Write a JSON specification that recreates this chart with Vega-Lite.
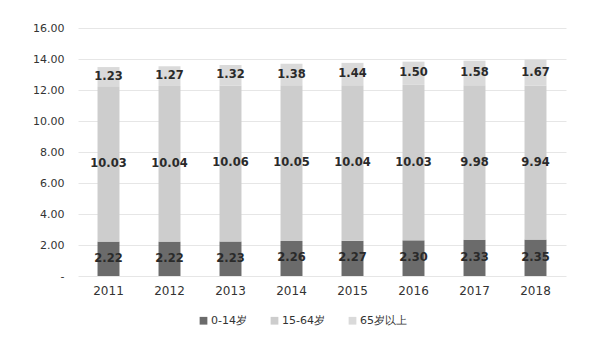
{
  "$schema": "https://vega.github.io/schema/vega-lite/v6.json",
  "width": 488,
  "height": 248,
  "padding": {"left": 78, "top": 28, "right": 33, "bottom": 65},
  "autosize": {"type": "none"},
  "background": "white",
  "config": {
    "view": {"stroke": null},
    "font": "DejaVu Sans",
    "axis": {"labelFont": "DejaVu Sans", "labelColor": "#333333", "labelFontSize": 11},
    "axisY": {
      "values": [0, 2, 4, 6, 8, 10, 12, 14, 16],
      "labelOverlap": false,
      "labelExpr": "datum.value == 0 ? '-' : format(datum.value, '.2f')",
      "domain": false, "ticks": false, "labelPadding": 14,
      "gridColor": "#e6e6e6", "gridWidth": 1, "title": null
    }
  },
  "data": {
    "values": [
      {"year": "2011", "group": "0-14岁", "value": 2.22},
      {"year": "2011", "group": "15-64岁", "value": 10.03},
      {"year": "2011", "group": "65岁以上", "value": 1.23},
      {"year": "2012", "group": "0-14岁", "value": 2.22},
      {"year": "2012", "group": "15-64岁", "value": 10.04},
      {"year": "2012", "group": "65岁以上", "value": 1.27},
      {"year": "2013", "group": "0-14岁", "value": 2.23},
      {"year": "2013", "group": "15-64岁", "value": 10.06},
      {"year": "2013", "group": "65岁以上", "value": 1.32},
      {"year": "2014", "group": "0-14岁", "value": 2.26},
      {"year": "2014", "group": "15-64岁", "value": 10.05},
      {"year": "2014", "group": "65岁以上", "value": 1.38},
      {"year": "2015", "group": "0-14岁", "value": 2.27},
      {"year": "2015", "group": "15-64岁", "value": 10.04},
      {"year": "2015", "group": "65岁以上", "value": 1.44},
      {"year": "2016", "group": "0-14岁", "value": 2.30},
      {"year": "2016", "group": "15-64岁", "value": 10.03},
      {"year": "2016", "group": "65岁以上", "value": 1.50},
      {"year": "2017", "group": "0-14岁", "value": 2.33},
      {"year": "2017", "group": "15-64岁", "value": 9.98},
      {"year": "2017", "group": "65岁以上", "value": 1.58},
      {"year": "2018", "group": "0-14岁", "value": 2.35},
      {"year": "2018", "group": "15-64岁", "value": 9.94},
      {"year": "2018", "group": "65岁以上", "value": 1.67}
    ]
  },
  "transform": [
    {"stack": "value", "groupby": ["year"], "sort": [{"field": "group", "order": "ascending"}], "as": ["v0", "v1"]},
    {"calculate": "(datum.v0 + datum.v1) / 2", "as": "mid"}
  ],
  "encoding": {
    "x": {
      "field": "year", "type": "ordinal",
      "scale": {"paddingInner": 0.64, "paddingOuter": 0.32},
      "axis": {"title": null, "labelAngle": 0, "domain": false, "ticks": false, "labelPadding": 9, "labelFontSize": 12, "grid": false}
    }
  },
  "layer": [
    {
      "mark": {"type": "bar"},
      "encoding": {
        "y": {
          "field": "v0", "type": "quantitative",
          "scale": {"domain": [0, 16]}
        },
        "y2": {"field": "v1"},
        "color": {
          "field": "group", "type": "nominal",
          "scale": {"domain": ["0-14岁", "15-64岁", "65岁以上"], "range": ["#6b6b6b", "#cdcdcd", "#dadada"]},
          "legend": {
            "title": null, "orient": "none", "direction": "horizontal",
            "legendX": 120, "legendY": 287,
            "symbolType": "square", "symbolSize": 60, "labelFontSize": 11,
            "labelColor": "#333333", "columnPadding": 22, "labelOffset": 2
          }
        }
      }
    },
    {
      "mark": {"type": "text", "fontSize": 11.5, "fontWeight": "bold", "color": "#2a2a2a"},
      "encoding": {
        "y": {"field": "mid", "type": "quantitative"},
        "text": {"field": "value", "type": "quantitative", "format": ".2f"}
      }
    }
  ]
}
